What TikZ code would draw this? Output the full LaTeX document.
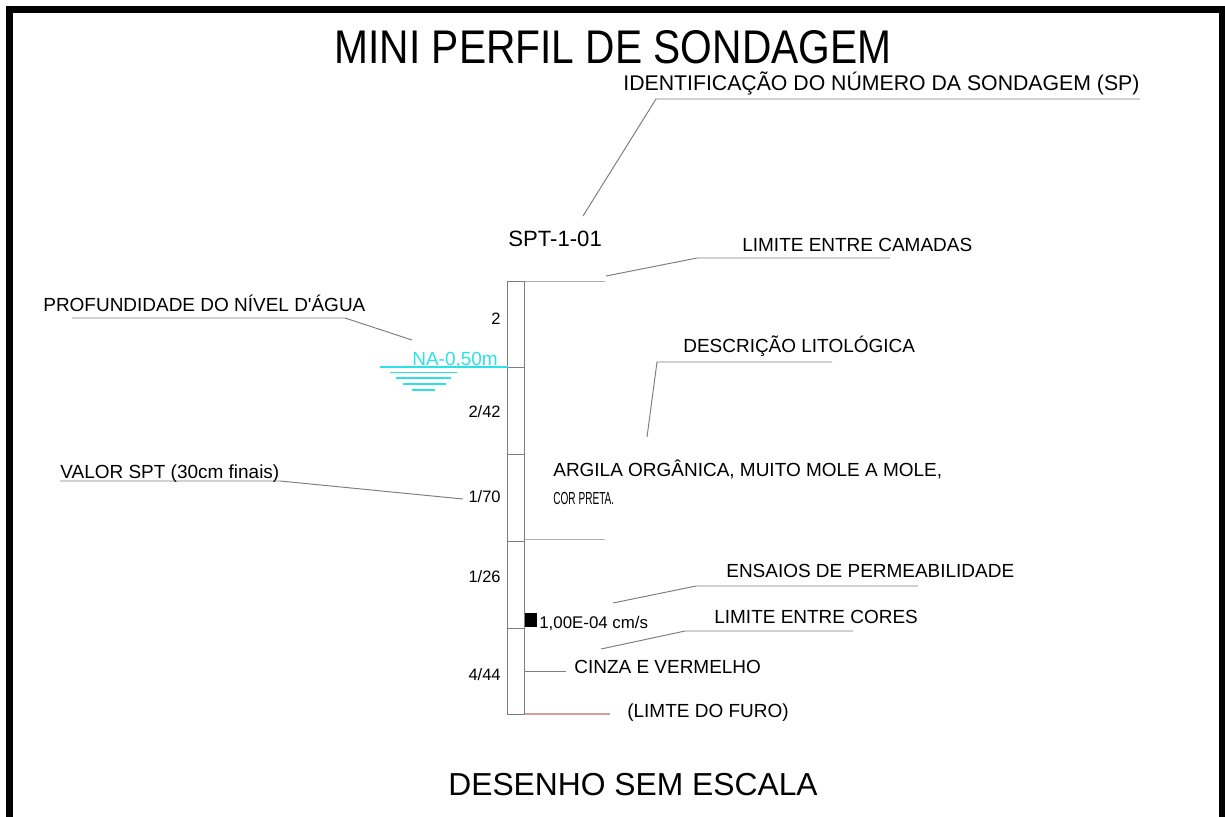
\documentclass[tikz,border=0pt]{standalone}
\usepackage{fontspec}
\setmainfont{Liberation Sans}[Ligatures=TeXOff]
\usepackage{graphicx}
\usepackage{tikz}
\pgfdeclarelayer{edgelayer}
\pgfdeclarelayer{nodelayer}
\pgfsetlayers{edgelayer,nodelayer,main}
\definecolor{leadgray}{RGB}{125,125,125}
\definecolor{faintgray}{RGB}{175,175,175}
\definecolor{holered}{RGB}{215,155,155}
\definecolor{nacyan}{RGB}{45,225,230}
\tikzstyle{note}=[anchor=base west, inner sep=0pt, font=\fontsize{10.8}{13}\selectfont]
\tikzstyle{blows}=[anchor=base east, inner sep=0pt, font=\fontsize{9.4}{11}\selectfont]
\tikzstyle{leader}=[-, draw=leadgray, line width=0.55pt]
\tikzstyle{hole}=[-, draw=leadgray, line width=0.55pt]
\tikzstyle{limit}=[-, draw=faintgray, line width=0.55pt]
\tikzstyle{water}=[-, draw=nacyan, line width=0.6pt]

\begin{document}
\begin{tikzpicture}[x=0.02cm, y=-0.02cm]
            \useasboundingbox (0,0) rectangle (1225,816);
            \begin{pgfonlayer}{nodelayer}
                \node [anchor=base, inner sep=0pt, font=\fontsize{26.9}{30}\selectfont] (title) at (613, 63) {\scalebox{0.862}[1]{MINI PERFIL DE SONDAGEM}};
                \node [style=note, font=\fontsize{12.1}{14}\selectfont] (ident) at (623, 90) {IDENTIFICAÇÃO DO NÚMERO DA SONDAGEM (SP)};
                \node [style=note, font=\fontsize{12.6}{15}\selectfont] (spt) at (508, 246) {SPT-1-01};
                \node [style=note] (camadas) at (742, 251) {LIMITE ENTRE CAMADAS};
                \node [style=note] (nivel) at (43, 311) {PROFUNDIDADE DO NÍVEL D'ÁGUA};
                \node [style=note, text=nacyan] (na) at (412, 365) {NA-0,50m};
                \node [style=note] (descr) at (683, 352) {DESCRIÇÃO LITOLÓGICA};
                \node [style=note] (valor) at (60, 478) {VALOR SPT (30cm finais)};
                \node [style=note] (argila) at (553, 476) {ARGILA ORGÂNICA, MUITO MOLE A MOLE,};
                \node [style=note, font=\fontsize{9.9}{12}\selectfont] (cor) at (553, 504) {\scalebox{0.58}[1]{COR PRETA.}};
                \node [style=note] (ensaios) at (726, 577) {ENSAIOS DE PERMEABILIDADE};
                \node [style=note, font=\fontsize{9.6}{11}\selectfont] (kval) at (539, 628) {1,00E-04 cm/s};
                \node [style=note] (cores) at (714, 623) {LIMITE ENTRE CORES};
                \node [style=note] (cinza) at (574, 673) {CINZA E VERMELHO};
                \node [style=note] (furo) at (627, 717) {(LIMTE DO FURO)};
                \node [style=note, font=\fontsize{18.1}{21}\selectfont] (escala) at (448, 795) {DESENHO SEM ESCALA};
                \node [style=blows] (n1) at (501, 324) {2};
                \node [style=blows] (n2) at (501, 417) {2/42};
                \node [style=blows] (n3) at (501, 502) {1/70};
                \node [style=blows] (n4) at (501, 582) {1/26};
                \node [style=blows] (n5) at (501, 680) {4/44};
                \fill [black] (525, 613) rectangle (537, 627);
            \end{pgfonlayer}
            \begin{pgfonlayer}{edgelayer}
                % frame
                \draw [line width=0.14cm] (9.7, 830) -- (9.7, 9.7) -- (1222.5, 9.7) -- (1222.5, 830);
                % hole
                \coordinate (topL) at (507.5, 281);
                \coordinate (topR) at (524.5, 281);
                \coordinate (botL) at (507.5, 714);
                \coordinate (botR) at (524.5, 714);
                \draw [style=hole] (topL) rectangle (botR);
                \draw [style=hole] (507.5, 367) -- (524.5, 367);
                \draw [style=hole] (507.5, 454) -- (524.5, 454);
                \draw [style=hole] (507.5, 541) -- (524.5, 541);
                \draw [style=hole] (507.5, 628) -- (524.5, 628);
                \coordinate (topEnd) at (605, 281);
                \coordinate (layEnd) at (605, 539);
                \coordinate (corEnd) at (566, 671);
                \coordinate (botEnd) at (610, 714);
                \draw [style=limit] (topR) to (topEnd);
                \draw [style=limit] (524.5, 539) to (layEnd);
                \draw [style=hole] (524.5, 671) to (corEnd);
                \draw [-, draw=holered, line width=0.6pt] (botR) to (botEnd);
                % water level
                \draw [style=water] (380, 367) -- (topL |- 0, 367);
                \draw [style=water] (390, 372.7) -- (457, 372.7);
                \draw [style=water] (396, 378) -- (451, 378);
                \draw [style=water] (403, 384) -- (446, 384);
                \draw [style=water] (412, 390) -- (435, 390);
                % leaders
                \coordinate (idA) at (583, 216);
                \coordinate (idB) at (656, 99);
                \coordinate (idC) at (1140, 99);
                \draw [style=leader] (idA) -- (idB) -- (idC);
                \coordinate (camA) at (606, 276);
                \coordinate (camB) at (697, 258);
                \coordinate (camC) at (890, 258);
                \draw [style=leader] (camA) -- (camB) -- (camC);
                \coordinate (nivA) at (72, 318);
                \coordinate (nivB) at (345, 318);
                \coordinate (nivC) at (412, 340);
                \draw [style=leader] (nivA) -- (nivB) -- (nivC);
                \coordinate (desA) at (647, 437);
                \coordinate (desB) at (657, 362);
                \coordinate (desC) at (832, 362);
                \draw [style=leader] (desA) -- (desB) -- (desC);
                \coordinate (valA) at (60, 481);
                \coordinate (valB) at (280, 481);
                \coordinate (valC) at (463, 499);
                \draw [style=leader] (valA) -- (valB) -- (valC);
                \coordinate (ensA) at (613, 603);
                \coordinate (ensB) at (696, 586);
                \coordinate (ensC) at (918, 586);
                \draw [style=leader] (ensA) -- (ensB) -- (ensC);
                \coordinate (corA) at (601, 649);
                \coordinate (corB) at (685, 631);
                \coordinate (corC) at (853, 631);
                \draw [style=leader] (corA) -- (corB) -- (corC);
            \end{pgfonlayer}
        \end{tikzpicture}
\end{document}
